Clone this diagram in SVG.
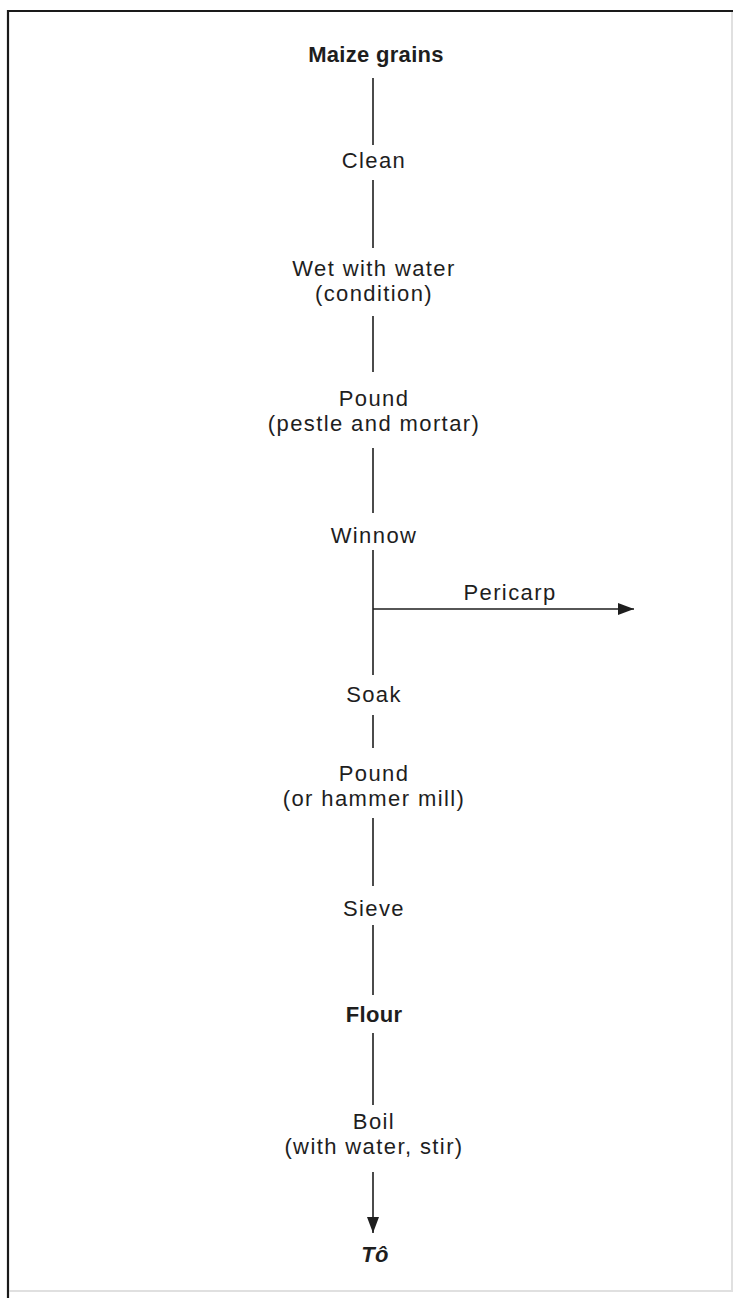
<svg xmlns="http://www.w3.org/2000/svg" width="733" height="1298" viewBox="0 0 733 1298">
  <defs>
    <marker id="arrow" viewBox="0 0 16 12" refX="16" refY="6" markerWidth="16" markerHeight="12" markerUnits="userSpaceOnUse" orient="auto">
      <path d="M0,0 L16,6 L0,12 Z" fill="#1e1e1e"/>
    </marker>
    <style>
      .t { font-family: "Liberation Sans", Arial, sans-serif; font-size: 22px; fill: #1e1e1e; text-anchor: middle; letter-spacing: 1.4px; }
      .b { font-weight: bold; letter-spacing: 0.3px; font-size: 22px; }
      .i { font-style: italic; }
      .ln { stroke: #1e1e1e; stroke-width: 1.6; fill: none; }
      .frame { stroke: #1a1a1a; stroke-width: 2.2; fill: none; }
      .faint { stroke: #d6d6d6; stroke-width: 1.5; fill: none; }
    </style>
  </defs>

  <rect width="733" height="1298" fill="#ffffff"/>

  <!-- frame -->
  <g id="frame">
    <path class="frame" d="M8,1298 L8,11 L733,11"/>
    <path class="faint" d="M732,12 L732,1290 M9,1291 L733,1291"/>
  </g>

  <!-- connectors -->
  <g id="connectors">
    <line class="ln" x1="373" y1="78" x2="373" y2="145"/>
    <line class="ln" x1="373" y1="180" x2="373" y2="248"/>
    <line class="ln" x1="373" y1="316" x2="373" y2="372"/>
    <line class="ln" x1="373" y1="448" x2="373" y2="513"/>
    <line class="ln" x1="373" y1="550" x2="373" y2="675"/>
    <line class="ln" x1="373" y1="609" x2="634" y2="609" marker-end="url(#arrow)"/>
    <line class="ln" x1="373" y1="715" x2="373" y2="748"/>
    <line class="ln" x1="373" y1="818" x2="373" y2="886"/>
    <line class="ln" x1="373" y1="925" x2="373" y2="995"/>
    <line class="ln" x1="373" y1="1033" x2="373" y2="1105"/>
    <line class="ln" x1="373" y1="1172" x2="373" y2="1233" marker-end="url(#arrow)"/>
  </g>

  <g id="maize-grains"><text class="t b" x="376" y="62">Maize grains</text></g>
  <g id="clean"><text class="t" x="374" y="168">Clean</text></g>
  <g id="wet">
    <text class="t" x="374" y="276">Wet with water</text>
    <text class="t" x="374" y="301">(condition)</text>
  </g>
  <g id="pound-1">
    <text class="t" x="374" y="406">Pound</text>
    <text class="t" x="374" y="431">(pestle and mortar)</text>
  </g>
  <g id="winnow"><text class="t" x="374" y="543">Winnow</text></g>
  <g id="pericarp"><text class="t" x="510" y="600">Pericarp</text></g>
  <g id="soak"><text class="t" x="374" y="702">Soak</text></g>
  <g id="pound-2">
    <text class="t" x="374" y="781">Pound</text>
    <text class="t" x="374" y="806">(or hammer mill)</text>
  </g>
  <g id="sieve"><text class="t" x="374" y="916">Sieve</text></g>
  <g id="flour"><text class="t b" x="374" y="1022">Flour</text></g>
  <g id="boil">
    <text class="t" x="374" y="1129">Boil</text>
    <text class="t" x="374" y="1154">(with water, stir)</text>
  </g>
  <g id="to"><text class="t b i" x="375" y="1262">Tô</text></g>
</svg>
